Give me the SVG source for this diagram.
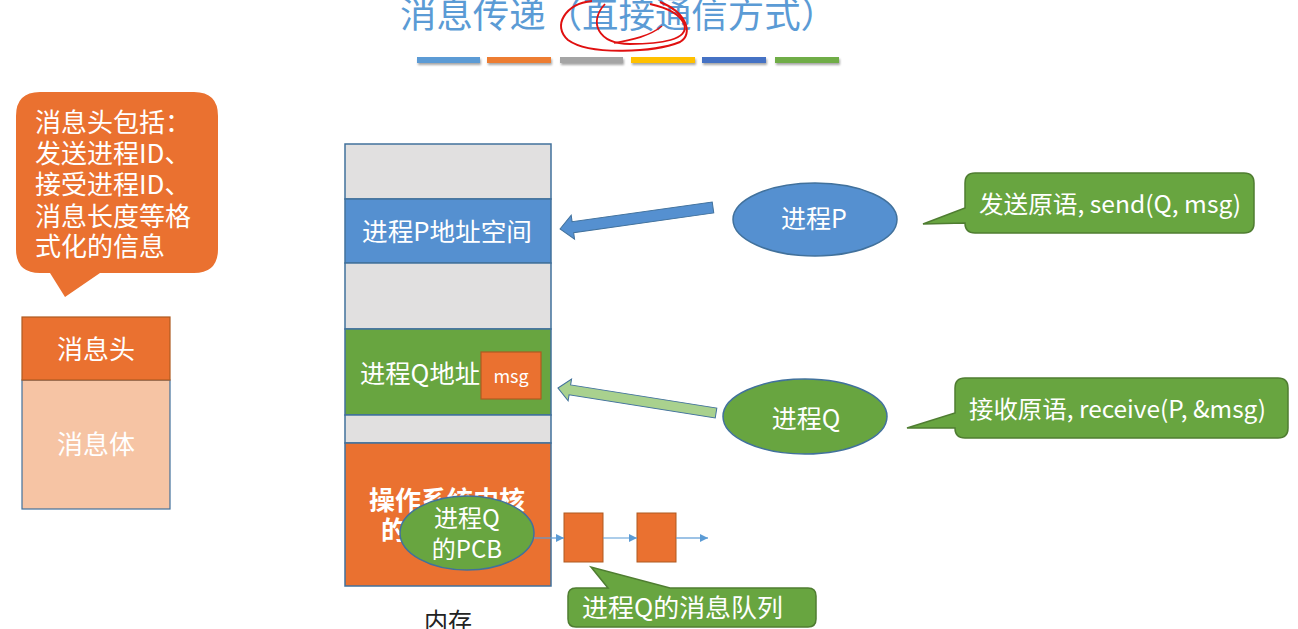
<svg xmlns="http://www.w3.org/2000/svg" width="1298" height="629" viewBox="0 0 1298 629">
<defs>
<style>
text{font-family:"Noto Sans CJK SC","Noto Sans",sans-serif;fill:#ffffff}
.t24{font-size:24px}
.t26{font-size:26px}
.mid{text-anchor:middle}
.seg{stroke:#41719c;stroke-width:1.5}
.gray{fill:#e1e0e0}
.blue{fill:#5590d0}
.green{fill:#68a540}
.orange{fill:#ea7130}
.gstroke{stroke:#4f7d31;stroke-width:1.5}
.bstroke{stroke:#41719c;stroke-width:1.5}
.qline{stroke:#5b9bd5;stroke-width:1.2;fill:none}
</style>
<marker id="ah" viewBox="0 0 10 10" refX="10" refY="5" markerWidth="8" markerHeight="8" markerUnits="userSpaceOnUse" orient="auto">
<path d="M0,0 L10,5 L0,10 Z" fill="#5b9bd5"/>
</marker>
<filter id="sh" x="-5%" y="-50%" width="110%" height="250%">
<feDropShadow dx="1" dy="2" stdDeviation="1.2" flood-color="#000" flood-opacity="0.35"/>
</filter>
</defs>

<g id="title">
<text x="400" y="28" style="font-size:36px;fill:#5b9bd5" textLength="437" lengthAdjust="spacingAndGlyphs">消息传递（直接通信方式）</text>
<path d="M592 1 C565 4 552 26 568 40 C590 56 655 52 680 42 C694 34 686 12 660 2" fill="none" stroke="#e01010" stroke-width="2"/>
<path d="M605 4 C588 22 598 44 630 44 C660 44 690 40 684 24 C680 14 668 8 650 4" fill="none" stroke="#e01010" stroke-width="1.8"/>
<path d="M614 43 C632 40 650 36 662 26" fill="none" stroke="#e01010" stroke-width="1.6"/>
</g>

<g id="color-bars" filter="url(#sh)">
<rect x="417" y="57" width="63" height="6" fill="#5b9bd5"/>
<rect x="487" y="57" width="64" height="6" fill="#ed7d31"/>
<rect x="560" y="57" width="63" height="6" fill="#a5a5a5"/>
<rect x="631" y="57" width="64" height="6" fill="#ffc000"/>
<rect x="702" y="57" width="64" height="6" fill="#4472c4"/>
<rect x="775" y="57" width="64" height="6" fill="#70ad47"/>
</g>

<g id="header-callout">
<path d="M40 92 H194 Q218 92 218 116 V249 Q218 273 194 273 H100 L65 297 L50 273 H40 Q16 273 16 249 V116 Q16 92 40 92 Z" class="orange"/>
<text class="t26" x="35" y="132">消息头包括：</text>
<text class="t26" x="35" y="163">发送进程ID、</text>
<text class="t26" x="35" y="194">接受进程ID、</text>
<text class="t26" x="35" y="226">消息长度等格</text>
<text class="t26" x="35" y="256">式化的信息</text>
</g>

<g id="message">
<rect x="22" y="380" width="148" height="129" fill="#f6c4a4" stroke="#41719c" stroke-width="1.2"/>
<rect x="22" y="317" width="148" height="63" class="orange" stroke="#ae5a21" stroke-width="1.2"/>
<text class="t26 mid" x="96" y="359">消息头</text>
<text class="t26 mid" x="96" y="454">消息体</text>
</g>

<g id="memory">
<rect x="345" y="144" width="206" height="55" class="gray seg"/>
<rect x="345" y="199" width="206" height="64" class="blue seg"/>
<rect x="345" y="263" width="206" height="66" class="gray seg"/>
<rect x="345" y="329" width="206" height="86" class="green seg"/>
<rect x="345" y="415" width="206" height="28" class="gray seg"/>
<rect x="345" y="443" width="206" height="143" class="orange seg"/>
<text class="mid" x="447" y="241" style="font-size:25px" textLength="170" lengthAdjust="spacingAndGlyphs">进程P地址空间</text>
<text x="360" y="383" style="font-size:25px" textLength="120" lengthAdjust="spacingAndGlyphs">进程Q地址</text>
<text style="font-size:26px;font-weight:bold" x="369" y="510">操作系统内核</text>
<text style="font-size:26px;font-weight:bold" x="381" y="540">的</text>
<text class="mid" x="448" y="630" style="font-size:24px;fill:#222222">内存</text>
</g>

<g id="msg">
<rect x="481" y="352" width="60" height="47" class="orange" stroke="#ae5a21" stroke-width="1.2"/>
<text class="mid" x="511" y="383" style="font-size:18px">msg</text>
</g>

<g id="pcb">
<ellipse cx="467" cy="533" rx="67" ry="37" class="green bstroke"/>
<text class="t24 mid" x="467" y="527">进程Q</text>
<text class="t24 mid" x="467" y="558">的PCB</text>
</g>

<g id="queue">
<rect x="564" y="513" width="39" height="49" class="orange" stroke="#ae5a21" stroke-width="1"/>
<rect x="637" y="513" width="39" height="49" class="orange" stroke="#ae5a21" stroke-width="1"/>
</g>

<g id="process-p">
<ellipse cx="815" cy="219.5" rx="82" ry="36.5" class="blue bstroke"/>
<text class="mid" x="814" y="228" style="font-size:25px">进程P</text>
</g>

<g id="process-q">
<ellipse cx="805" cy="416.5" rx="82" ry="37.5" class="green bstroke"/>
<text class="mid" x="806" y="428" style="font-size:25px">进程Q</text>
</g>

<g id="send-callout">
<path d="M975 173 H1244 Q1254 173 1254 183 V223 Q1254 233 1244 233 H975 Q965 233 965 223 L923 224 L965 208 V183 Q965 173 975 173 Z" class="green gstroke"/>
<text x="979" y="213" style="font-size:24px" textLength="262" lengthAdjust="spacingAndGlyphs">发送原语, send(Q, msg)</text>
</g>

<g id="receive-callout">
<path d="M965 378 H1278 Q1288 378 1288 388 V428 Q1288 438 1278 438 H965 Q955 438 955 428 L907 428 L955 413 V388 Q955 378 965 378 Z" class="green gstroke"/>
<text x="969" y="418" style="font-size:24px" textLength="297" lengthAdjust="spacingAndGlyphs">接收原语, receive(P, &amp;msg)</text>
</g>

<g id="queue-callout">
<path d="M576 588 H608 L591 567 L670 588 H808 Q816 588 816 596 V619 Q816 627 808 627 H576 Q568 627 568 619 V596 Q568 588 576 588 Z" class="green gstroke"/>
<text x="582" y="617" style="font-size:25px" textLength="201" lengthAdjust="spacingAndGlyphs">进程Q的消息队列</text>
</g>

<g id="connectors">
<polygon transform="translate(560,229) rotate(-8)" points="0,0 13,-12 13,-5.5 154.5,-5.5 154.5,5.5 13,5.5 13,12" fill="#5590d0" stroke="#41719c" stroke-width="1"/>
<polygon transform="translate(558,388) rotate(9)" points="0,0 12,-11 12,-5 160,-5 160,5 12,5 12,11" fill="#a9d18e" stroke="#41719c" stroke-width="1"/>
<line x1="534" y1="538" x2="564" y2="538" class="qline" marker-end="url(#ah)"/>
<line x1="603" y1="538" x2="637" y2="538" class="qline" marker-end="url(#ah)"/>
<line x1="676" y1="538" x2="708" y2="538" class="qline" marker-end="url(#ah)"/>
</g>
</svg>
